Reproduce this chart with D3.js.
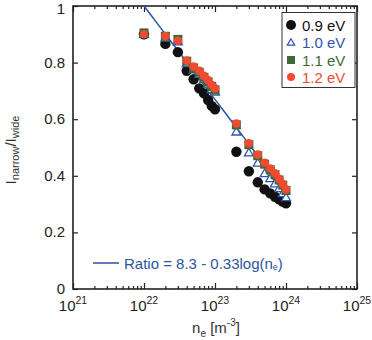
<!DOCTYPE html>
<html><head><meta charset="utf-8">
<script src="https://cdn.jsdelivr.net/npm/d3@7"></script>
<style>body{margin:0;background:#fff}svg{display:block}text{font-family:"Liberation Sans",Arial,sans-serif}</style>
</head><body><div id="c"></div>
<script>
const density = [1e22,2e22,3e22,4e22,5e22,6e22,7e22,8e22,9e22,1e23,2e23,3e23,4e23,5e23,6e23,7e23,8e23,9e23,1e24];
const ratio09 = [0.900,0.866,0.837,0.771,0.741,0.709,0.691,0.668,0.647,0.635,0.485,0.416,0.377,0.352,0.338,0.326,0.317,0.309,0.303];
const ratio10 = [0.900,0.888,0.875,0.798,0.776,0.760,0.741,0.725,0.706,0.697,0.556,0.482,0.446,0.409,0.391,0.373,0.356,0.338,0.324];
const ratio11 = [0.905,0.893,0.882,0.805,0.781,0.766,0.748,0.732,0.716,0.703,0.580,0.510,0.471,0.441,0.421,0.404,0.385,0.367,0.348];
const ratio12 = [0.900,0.894,0.877,0.807,0.786,0.771,0.753,0.738,0.721,0.709,0.585,0.515,0.475,0.446,0.426,0.409,0.389,0.371,0.352];
const seriesLabels = ["0.9 eV","1.0 eV","1.1 eV","1.2 eV"];
const xTickExps = [21,22,23,24,25];
const yTicks = [0,0.2,0.4,0.6,0.8,1];
const yTickLabels = ["0","0.2","0.4","0.6","0.8","1"];
const fitIntercept = 8.26, fitSlope = 0.33;
const fitRange = [1e22, 1.05e24];

const W=372,H=340;
const L=73,R=357,T=6,B=289;
const svg=d3.select("#c").append("svg").attr("width",W).attr("height",H);
const x=d3.scaleLog().domain([1e21,1e25]).range([L,R]);
const y=d3.scaleLinear().domain([0,1]).range([B,T]);

const majors=xTickExps.map(e=>Math.pow(10,e));
const minors=[];
for(let e=21;e<25;e++)for(let k=2;k<=9;k++)minors.push(k*Math.pow(10,e));

const axCol="#222";
function styleAxis(g){g.select(".domain").remove();g.selectAll("line").attr("stroke",axCol).attr("stroke-width",1.2);g.selectAll("text").remove();}
svg.append("g").attr("transform",`translate(0,${B})`).call(d3.axisBottom(x).tickValues(majors).tickSize(-6).tickFormat("")).call(styleAxis);
svg.append("g").attr("transform",`translate(0,${B})`).call(d3.axisBottom(x).tickValues(minors).tickSize(-3).tickFormat("")).call(styleAxis);
svg.append("g").attr("transform",`translate(0,${T})`).call(d3.axisTop(x).tickValues(majors).tickSize(-6).tickFormat("")).call(styleAxis);
svg.append("g").attr("transform",`translate(0,${T})`).call(d3.axisTop(x).tickValues(minors).tickSize(-3).tickFormat("")).call(styleAxis);
svg.append("g").attr("transform",`translate(${L},0)`).call(d3.axisLeft(y).tickValues(yTicks).tickSize(-5).tickFormat("")).call(styleAxis);
svg.append("g").attr("transform",`translate(${R},0)`).call(d3.axisRight(y).tickValues(yTicks).tickSize(-5).tickFormat("")).call(styleAxis);

// y tick labels
svg.append("g").selectAll("text").data(yTicks).join("text")
 .attr("x",L-8).attr("y",d=>Math.max(y(d)+5,14)).attr("text-anchor","end").attr("font-size",15).attr("fill","#222")
 .text((d,i)=>yTickLabels[i]);
// x tick labels
const xl=svg.append("g").selectAll("text").data(xTickExps).join("text")
 .attr("x",d=>x(Math.pow(10,d))).attr("y",B+22).attr("text-anchor","middle").attr("font-size",15).attr("fill","#222");
xl.append("tspan").text("10");
xl.append("tspan").attr("dy",-7).attr("font-size",10.5).text(d=>d);

// axis titles
const xt=svg.append("text").attr("x",216).attr("y",333).attr("text-anchor","middle").attr("font-size",15).attr("fill","#333");
xt.append("tspan").text("n");
xt.append("tspan").attr("dy",4).attr("font-size",10).text("e");
xt.append("tspan").attr("dy",-4).text(" [m");
xt.append("tspan").attr("dy",-7).attr("font-size",10).text("-3");
xt.append("tspan").attr("dy",7).text("]");

const yt=svg.append("text").attr("transform",`translate(16,150) rotate(-90)`).attr("text-anchor","middle").attr("font-size",15).attr("fill","#333");
yt.append("tspan").text("I");
yt.append("tspan").attr("dy",3).attr("font-size",11).text("narrow");
yt.append("tspan").attr("dy",-3).text("/I");
yt.append("tspan").attr("dy",3).attr("font-size",11).text("wide");

// frame
svg.append("rect").attr("x",L).attr("y",T).attr("width",R-L).attr("height",B-T).attr("fill","none").attr("stroke",axCol).attr("stroke-width",1.6);

// fit line
svg.append("clipPath").attr("id","pc").append("rect").attr("x",L).attr("y",T).attr("width",R-L).attr("height",B-T);
const fitPts=d3.range(0,51).map(i=>{const lg=Math.log10(fitRange[0])+i*(Math.log10(fitRange[1])-Math.log10(fitRange[0]))/50;return [Math.pow(10,lg),fitIntercept-fitSlope*lg];});
svg.append("path").attr("clip-path","url(#pc)").attr("d",d3.line().x(d=>x(d[0])).y(d=>y(d[1]))(fitPts)).attr("fill","none").attr("stroke","#2b55a0").attr("stroke-width",1.5);

const cBlack="#111111",cBlue="#2f55b0",cGreen="#3c6a37",cRed="#f24a30";
const g=svg.append("g");
g.selectAll(".b").data(density).join("circle").attr("cx",d=>x(d)).attr("cy",(d,i)=>y(ratio09[i])).attr("r",5.2).attr("fill",cBlack);
const tri=d3.symbol().type(d3.symbolTriangle).size(34);
g.selectAll(".t").data(density).join("path").attr("d",tri).attr("transform",(d,i)=>`translate(${x(d)},${y(ratio10[i])+0.8})`).attr("fill","#fff").attr("stroke",cBlue).attr("stroke-width",1.3);
g.selectAll(".s").data(density).join("rect").attr("x",d=>x(d)-4.5).attr("y",(d,i)=>y(ratio11[i])-4.5).attr("width",9).attr("height",9).attr("fill",cGreen);
g.selectAll(".r").data(density).join("circle").attr("cx",d=>x(d)).attr("cy",(d,i)=>y(ratio12[i])).attr("r",4.3).attr("fill",cRed);

// legend
const lg=svg.append("g");
lg.append("rect").attr("x",282).attr("y",12.5).attr("width",73).attr("height",75).attr("fill","#fff").attr("stroke","#333").attr("stroke-width",1);
const rows=[25,42.5,60,77];
const tcol=["#111",cBlue,cGreen,cRed];
lg.append("circle").attr("cx",291).attr("cy",rows[0]).attr("r",5).attr("fill",cBlack);
lg.append("path").attr("d",d3.symbol().type(d3.symbolTriangle).size(24)).attr("transform",`translate(291,${rows[1]+0.5})`).attr("fill","#fff").attr("stroke",cBlue).attr("stroke-width",1.2);
lg.append("rect").attr("x",287).attr("y",rows[2]-4).attr("width",8).attr("height",8).attr("fill",cGreen);
lg.append("circle").attr("cx",291).attr("cy",rows[3]).attr("r",4).attr("fill",cRed);
lg.selectAll("text").data(seriesLabels).join("text").attr("x",302).attr("y",(d,i)=>rows[i]+5.5).attr("font-size",15).attr("fill",(d,i)=>tcol[i]).text(d=>d);

// fit legend
svg.append("line").attr("x1",93).attr("x2",119).attr("y1",263).attr("y2",263).attr("stroke","#2b55a0").attr("stroke-width",1.5);
const ft=svg.append("text").attr("x",124).attr("y",268.5).attr("font-size",15).attr("fill","#2b55a0");
ft.append("tspan").text("Ratio = 8.3 - 0.33log(n");
ft.append("tspan").attr("font-size",9).attr("dy",1).text("e");
ft.append("tspan").attr("dy",-1).text(")");
</script></body></html>
